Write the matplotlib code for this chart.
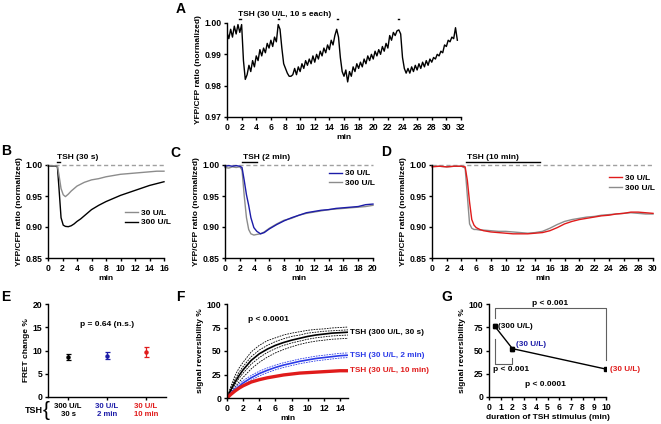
import numpy as np
import matplotlib
matplotlib.use('Agg')
import matplotlib.pyplot as plt

plt.rcParams['font.family'] = ['Liberation Sans', 'DejaVu Sans']
plt.rcParams['font.weight'] = 'bold'
plt.rcParams['axes.labelweight'] = 'bold'
plt.rcParams['font.size'] = 6

BLUE = '#1c1ca8'
BLUE_F = '#2a3ae8'
RED = '#e01b1b'
GRAY = '#8c8c8c'

# ---- panel A: repeated 10 s pulses of TSH (30 U/L), one value per 15 s
a_dt = 0.25
a_ratio = [
    0.997, 0.995, 0.998, 0.9955, 0.999, 0.9965, 0.9995, 0.997, 0.9995, 0.988,
    0.982, 0.9835, 0.9865, 0.9845, 0.988, 0.986, 0.9895, 0.988, 0.9915, 0.9895,
    0.992, 0.9905, 0.9935, 0.992, 0.9945, 0.9925, 0.9955, 0.994, 0.9995, 0.998,
    0.992, 0.987, 0.9855, 0.984, 0.983, 0.983, 0.9835, 0.9855, 0.9835, 0.986,
    0.9845, 0.987, 0.9855, 0.988, 0.9865, 0.9885, 0.987, 0.9895, 0.9875, 0.990,
    0.9885, 0.991, 0.9895, 0.992, 0.9905, 0.993, 0.9915, 0.9945, 0.993, 0.996,
    0.998, 0.9955, 0.989, 0.9845, 0.983, 0.985, 0.9812, 0.9845, 0.983, 0.986,
    0.9845, 0.987, 0.9855, 0.9875, 0.986, 0.9885, 0.987, 0.9895, 0.988, 0.990,
    0.9885, 0.991, 0.9895, 0.9915, 0.990, 0.9925, 0.991, 0.9935, 0.992, 0.996,
    0.9945, 0.997, 0.996, 0.9975, 0.9978, 0.9965, 0.989, 0.9855, 0.984, 0.9855,
    0.984, 0.986, 0.9845, 0.9865, 0.985, 0.987, 0.9855, 0.9875, 0.986, 0.988,
    0.9865, 0.9885, 0.9875, 0.989, 0.9885, 0.990, 0.9895, 0.991, 0.9905, 0.993,
    0.9925, 0.9945, 0.994, 0.9955, 0.995, 0.9985, 0.9945,
]
a_stim = [1.7, 7.0, 15.0, 23.4]
a_stim_len = 10 / 60

# ---- panel B: 30 s stimulus
b_t = [0, 0.5, 1.0, 1.3, 1.5, 1.8, 2.1, 2.4, 2.8, 3.2, 3.6, 4.0, 4.5, 5, 5.5,
       6, 7, 8, 9, 10, 11, 12, 13, 14, 15, 16]
b_30 = [0.999, 0.9985, 0.999, 0.998, 0.985, 0.962, 0.952, 0.949, 0.953, 0.958,
        0.962, 0.966, 0.969, 0.972, 0.974, 0.976, 0.978, 0.981, 0.983, 0.985,
        0.986, 0.987, 0.988, 0.989, 0.990, 0.990]
b_300 = [0.999, 0.998, 0.9985, 0.997, 0.965, 0.915, 0.903, 0.901, 0.9005, 0.902,
         0.905, 0.909, 0.913, 0.918, 0.923, 0.928, 0.935, 0.941, 0.946, 0.951,
         0.955, 0.959, 0.963, 0.967, 0.970, 0.973]

# ---- panel C: 2 min stimulus
c_t = [0, 0.5, 1, 1.5, 2, 2.3, 2.6, 2.9, 3.2, 3.5, 3.9, 4.3, 4.8, 5.3, 6, 7, 8,
       9, 10, 11, 12, 13, 14, 15, 16, 17, 18, 19, 20]
c_30 = [0.998, 0.999, 0.998, 0.999, 0.998, 0.996, 0.975, 0.952, 0.935, 0.915,
        0.899, 0.893, 0.889, 0.891, 0.897, 0.904, 0.910, 0.915, 0.919, 0.923,
        0.925, 0.927, 0.928, 0.930, 0.931, 0.932, 0.933, 0.936, 0.937]
c_300 = [0.996, 0.995, 0.997, 0.996, 0.997, 0.992, 0.950, 0.915, 0.896, 0.889,
         0.887, 0.888, 0.889, 0.892, 0.898, 0.905, 0.911, 0.914, 0.919, 0.922,
         0.924, 0.926, 0.928, 0.929, 0.930, 0.931, 0.932, 0.933, 0.935]

# ---- panel D: 10 min stimulus
d_t = [0, 1, 2, 3, 4, 4.5, 4.8, 5.1, 5.4, 5.7, 6, 6.5, 7, 8, 9, 10, 11, 12, 13,
       14, 15, 16, 17, 18, 19, 20, 21, 22, 23, 24, 25, 26, 27, 28, 29, 30]
d_30 = [0.997, 0.998, 0.997, 0.998, 0.998, 0.997, 0.975, 0.940, 0.912, 0.903,
        0.899, 0.896, 0.894, 0.892, 0.891, 0.890, 0.889, 0.889, 0.889, 0.890,
        0.891, 0.894, 0.899, 0.905, 0.909, 0.912, 0.914, 0.916, 0.918, 0.919,
        0.921, 0.922, 0.924, 0.924, 0.923, 0.922]
d_300 = [0.998, 0.998, 0.997, 0.998, 0.998, 0.995, 0.950, 0.905, 0.898, 0.896,
         0.896, 0.895, 0.895, 0.894, 0.893, 0.893, 0.892, 0.891, 0.890, 0.891,
         0.893, 0.898, 0.904, 0.909, 0.912, 0.914, 0.916, 0.917, 0.919, 0.920,
         0.921, 0.922, 0.923, 0.922, 0.921, 0.921]

# ---- panel E: FRET change
e_labels = ['300 U/L\n30 s', '30 U/L\n2 min', '30 U/L\n10 min']
e_mean = [8.7, 8.9, 9.7]
e_err = [0.65, 0.75, 1.0]
e_colors = ['black', BLUE, RED]

# ---- panel F: signal reversibility over time
f_t = [0, 0.5, 1, 1.5, 2, 3, 4, 5, 6, 7, 8, 9, 10, 11, 12, 13, 14, 15]
f_black = [0, 9, 17, 24, 30, 40, 47, 52, 56, 59, 61.5, 63.5, 65.5, 67, 68, 69, 69.5, 70]
f_black_hi = [
    [0, 13, 24, 32, 38, 49, 56, 61, 64, 67, 69, 70.5, 72, 73, 73.5, 74.5, 75, 75.5],
    [0, 11, 20, 27.5, 33.5, 44, 51, 56, 60, 63, 65.5, 67, 69, 70, 71, 71.5, 72, 72.5],
]
f_black_lo = [
    [0, 7.5, 14.5, 21, 26.5, 36, 43, 48.5, 52.5, 56, 58.5, 60.5, 62.5, 64, 65, 66, 66.5, 67],
    [0, 5.5, 11.5, 17, 22, 31, 38, 43.5, 48, 51.5, 54.5, 57, 59, 60.5, 61.5, 62.5, 63, 63.5],
]
f_blue = [0, 5, 9, 12.5, 16, 21.5, 26, 29.5, 32.5, 35, 37, 39, 40.5, 42, 43, 44, 45, 45.5]
f_blue_hi = [0, 6.5, 11.5, 15, 18.5, 24, 28.5, 32, 35, 37.5, 39.5, 41.5, 43, 44.5, 45.5, 46.5, 47.5, 48]
f_blue_lo = [0, 3.5, 7, 10, 13.5, 19, 23.5, 27, 30, 32.5, 34.5, 36.5, 38, 39.5, 40.5, 41.5, 42.5, 43]
f_red = [0, 4, 7.5, 10.5, 13, 17, 19.5, 21.5, 23, 24.5, 25.5, 26.5, 27, 27.5, 28, 28.5, 29, 29]
f_names = ['TSH (300 U/L, 30 s)', 'TSH (30 U/L, 2 min)', 'TSH (30 U/L, 10 min)']

# ---- panel G: reversibility vs stimulus duration
g_dur = [0.5, 2, 10]
g_rev = [76, 52, 30]
g_err = [2, 2, 1.5]
g_names = ['(300 U/L)', '(30 U/L)', '(30 U/L)']


def style(ax):
    for s in ['top', 'right']:
        ax.spines[s].set_visible(False)
    for s in ['left', 'bottom']:
        ax.spines[s].set_linewidth(1.0)
    ax.tick_params(length=2.5, width=1.0, pad=1.5, labelsize=6.2)


def px(x0, y0, x1, y1):
    W, H = 661, 424
    return [x0 / W, 1 - y1 / H, (x1 - x0) / W, (y1 - y0) / H]


fig = plt.figure(figsize=(6.61, 4.24), dpi=100)

# ---------------- A
axA = fig.add_axes(px(227, 23, 461, 117))
a_t = np.arange(len(a_ratio)) * a_dt
axA.plot(a_t, a_ratio, color='black', lw=1.0)
for s in a_stim:
    axA.plot([s, s + a_stim_len], [1.0012, 1.0012], color='black', lw=1.0, clip_on=False)
axA.text(1.5, 1.0027, 'TSH (30 U/L, 10 s each)', ha='left', va='center')
axA.set_xlim(0, 32)
axA.set_ylim(0.97, 1.0)
axA.set_xticks(np.arange(0, 33, 2))
axA.set_yticks([0.97, 0.98, 0.99, 1.00])
axA.set_yticklabels(['0.97', '0.98', '0.99', '1.00'])
axA.set_xlabel('min', labelpad=2)
axA.set_ylabel('YFP/CFP ratio (normalized)', labelpad=2)
style(axA)


def trace_panel(ax, t, y1, y2, c1, c2, xmax, xstep, stim, dur, title, tx, legpos):
    ax.axhline(1.0, color='#a0a0a0', lw=1.0, ls=(0, (3, 2)), clip_on=False)
    ax.plot(t, y2, color=c2, lw=1.0, label='300 U/L', clip_on=False)
    ax.plot(t, y1, color=c1, lw=1.0, label='30 U/L', clip_on=False)
    ax.plot([stim, stim + dur], [1.0045, 1.0045], color='black', lw=1.0, clip_on=False)
    ax.text(tx, 1.0125, title, ha='left', va='center')
    ax.set_xlim(0, xmax)
    ax.set_ylim(0.85, 1.0)
    ax.set_xticks(np.arange(0, xmax + 1, xstep))
    ax.set_yticks([0.85, 0.90, 0.95, 1.00])
    ax.set_yticklabels(['0.85', '0.90', '0.95', '1.00'])
    ax.set_xlabel('min', labelpad=2)
    ax.set_ylabel('YFP/CFP ratio (normalized)', labelpad=2)
    h, l = ax.get_legend_handles_labels()
    ax.legend([h[1], h[0]], [l[1], l[0]], loc='upper left', bbox_to_anchor=legpos,
              frameon=False, handlelength=1.6, handletextpad=0.4, labelspacing=0.25,
              borderaxespad=0, borderpad=0, fontsize=6)
    style(ax)


axB = fig.add_axes(px(48, 165, 164, 258))
trace_panel(axB, b_t, b_30, b_300, GRAY, 'black', 16, 2, 1.2, 0.5, 'TSH (30 s)', 1.2, (0.66, 0.53))

axC = fig.add_axes(px(225, 165, 373, 258))
trace_panel(axC, c_t, c_30, c_300, BLUE, GRAY, 20, 2, 2.3, 2.0, 'TSH (2 min)', 2.4, (0.7, 0.95))

axD = fig.add_axes(px(432, 165, 653, 258))
trace_panel(axD, d_t, d_30, d_300, RED, GRAY, 30, 2, 4.6, 10.0, 'TSH (10 min)', 4.75, (0.8, 0.9))

# ---------------- E
axE = fig.add_axes(px(48, 304, 166, 397))
e_x = np.arange(len(e_mean))
for i in range(len(e_mean)):
    axE.errorbar(e_x[i], e_mean[i], yerr=e_err[i], fmt='o', color=e_colors[i],
                 ms=2.2, elinewidth=0.9, capsize=1.8, capthick=0.9)
axE.set_xlim(-0.52, 2.52)
axE.set_ylim(0, 20)
axE.set_yticks([0, 5, 10, 15, 20])
axE.set_xticks(e_x)
axE.set_xticklabels(e_labels, linespacing=1.3)
style(axE)
for lab, c in zip(axE.get_xticklabels(), e_colors):
    lab.set_color(c)
    lab.set_fontsize(5.6)
axE.set_ylabel('FRET change %', labelpad=2)
axE.text(1, 15.5, 'p = 0.64 (n.s.)', ha='center', va='center')
axE.text(-0.66, -0.15, 'TSH', transform=axE.get_xaxis_transform(), ha='right', va='center',
         fontsize=6.5)
axE.text(-0.56, -0.15, '{', transform=axE.get_xaxis_transform(), ha='center', va='center',
         fontsize=15, fontweight='normal', family='Liberation Sans')

# ---------------- F
axF = fig.add_axes(px(227, 304, 348, 398))
for arr in f_black_hi + f_black_lo:
    axF.plot(f_t, arr, color='black', lw=0.6, ls=(0, (2, 1.2)))
axF.plot(f_t, f_blue_hi, color=BLUE_F, lw=0.6, ls=(0, (2, 1.2)))
axF.plot(f_t, f_blue_lo, color=BLUE_F, lw=0.6, ls=(0, (2, 1.2)))
axF.plot(f_t, f_black, color='black', lw=1.2)
axF.plot(f_t, f_blue, color=BLUE_F, lw=1.2)
axF.plot(f_t, f_red, color=RED, lw=2.4)
for y, name, c in zip([f_black[-1], f_blue[-1], f_red[-1]], f_names, ['black', BLUE_F, RED]):
    axF.text(f_t[-1] + 0.3, y, name, color=c, ha='left', va='center', fontsize=5.9)
axF.text(2.6, 84, 'p < 0.0001', ha='left', va='center')
axF.set_xlim(0, 15)
axF.set_ylim(0, 100)
axF.set_xticks(np.arange(0, 15, 2))
axF.set_yticks([0, 25, 50, 75, 100])
axF.set_xlabel('min', labelpad=2)
axF.set_ylabel('signal reversibility %', labelpad=2)
style(axF)

# ---------------- G
axG = fig.add_axes(px(489, 304, 606, 397))
axG.errorbar(g_dur, g_rev, yerr=g_err, fmt='s-', color='black', ms=3.2, lw=1.0,
             elinewidth=0.8, capsize=1.5)
for x, y, name, c, dx, dy in zip(g_dur, g_rev, g_names, ['black', BLUE, RED],
                                 [0.3, 0.3, 0.35], [0, 4, 0]):
    axG.text(x + dx, y + dy, name, color=c, ha='left', va='center', fontsize=5.9)
# top bracket
axG.plot([g_dur[0], g_dur[0], g_dur[2], g_dur[2]], [85, 96, 96, 40],
         color='#606060', lw=0.8, clip_on=False)
axG.text((g_dur[0] + g_dur[2]) / 2, 101, 'p < 0.001', ha='center', va='center')
# lower bracket
axG.plot([g_dur[0], g_dur[0], g_dur[1], g_dur[1]], [62, 35, 35, 42],
         color='#606060', lw=0.8)
axG.text(1.85, 30, 'p < 0.001', ha='center', va='center')
axG.text(4.8, 13, 'p < 0.0001', ha='center', va='center')
axG.set_xlim(0, 10)
axG.set_ylim(0, 100)
axG.set_xticks(np.arange(0, 11, 1))
axG.set_yticks([0, 25, 50, 75, 100])
axG.set_xlabel('duration of TSH stimulus (min)', labelpad=2)
axG.set_ylabel('signal reversibility %', labelpad=2)
style(axG)

# panel letters
for letter, x, y in [('A', 181, 9), ('B', 6, 151), ('C', 175, 153), ('D', 386, 152),
                     ('E', 6, 297), ('F', 180, 297), ('G', 447, 297)]:
    fig.text(x / 661, 1 - y / 424, letter, fontsize=10, fontweight='bold',
             ha='center', va='center')

fig.savefig('out.png', dpi=100)
